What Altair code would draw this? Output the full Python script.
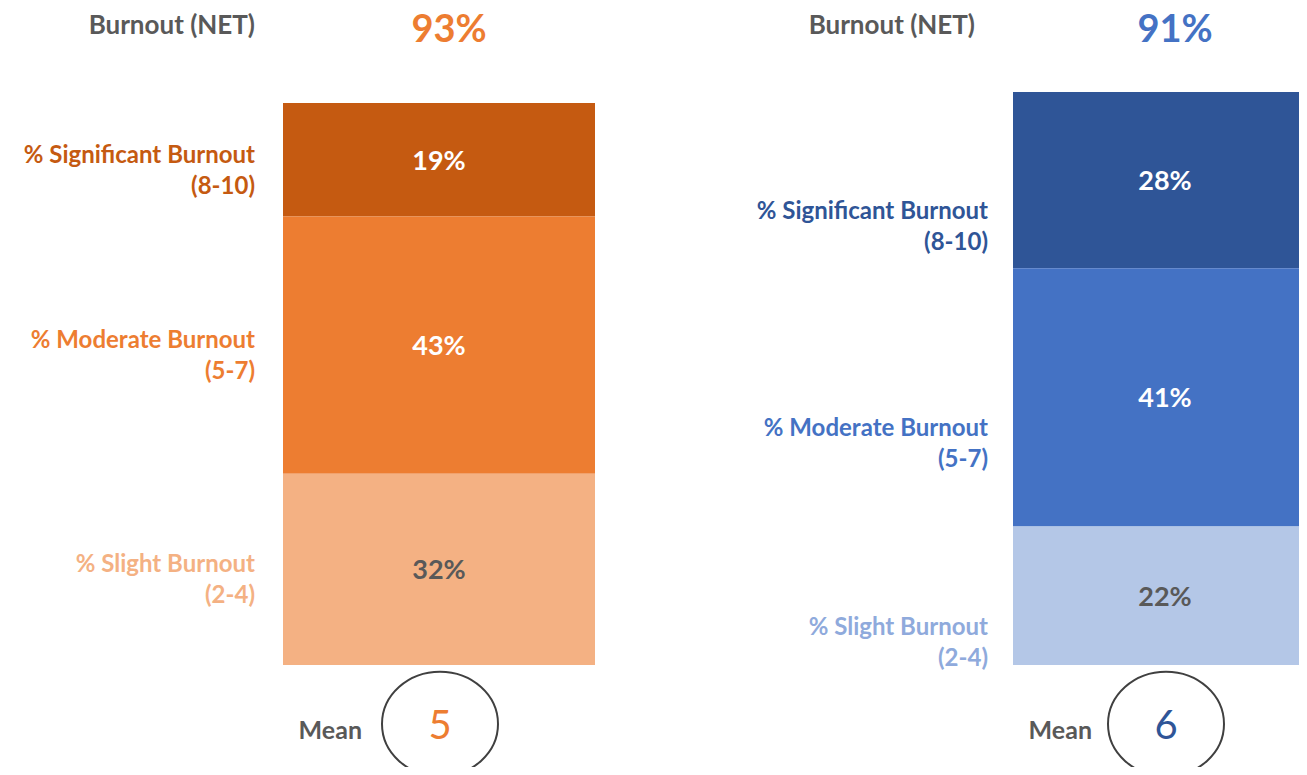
import altair as alt
import pandas as pd

# ---------------- data ----------------
categories = ["% Significant Burnout\n(8-10)", "% Moderate Burnout\n(5-7)", "% Slight Burnout\n(2-4)"]
stack_rank = [2, 1, 0]  # 0 = bottom of the stack
left_values = [19, 43, 32]
right_values = [28, 41, 22]
net_title = "Burnout (NET)"
left_net = "93%"
right_net = "91%"
mean_title = "Mean"
left_mean = "5"
right_mean = "6"

# ---------------- styles ----------------
left_colors = ["#C55A11", "#ED7D31", "#F4B183"]
left_label_colors = ["#C55A11", "#ED7D31", "#F4B183"]
right_colors = ["#2F5597", "#4472C4", "#B4C7E7"]
right_label_colors = ["#2F5597", "#4472C4", "#8FAADC"]
value_text_colors = ["#FFFFFF", "#FFFFFF", "#595959"]
GREY = "#595959"
FONT = "Lato"

W, H = 1291, 759
ELLIPSE = "M-1,0A1,0.9,0,1,0,1,0A1,0.9,0,1,0,-1,0Z"


def panel(key, values, colors, label_colors, net, net_color, mean, mean_color,
          bar_left, bar_width, bar_top, bar_bottom, center_shift,
          label_right, label_dy, title_right, mean_right):
    total = sum(values)
    k = (bar_bottom - bar_top) / total
    d0 = -(H - bar_bottom) / k
    d1 = bar_bottom / k
    yscale = alt.Scale(domain=[d0, d1], nice=False, zero=False)
    # band scale positioning of a single bar (paddingOuter = 1)
    pi = (W - 3 * bar_width) / (W - bar_width)
    align = min(1.0, bar_left / (W - bar_width))
    xscale = alt.Scale(paddingInner=pi, paddingOuter=1, align=align)

    df = pd.DataFrame({
        "panel": key,
        "category": categories,
        "rank": stack_rank,
        "value": values,
        "color": colors,
        "lcolor": label_colors,
        "tcolor": value_text_colors,
        "label": [f"{v}%" for v in values],
    })
    base = (alt.Chart(df)
            .transform_stack(stack="value", as_=["y0", "y1"], groupby=["panel"],
                             sort=[alt.SortField("rank", order="ascending")])
            .transform_calculate(mid="(datum.y0 + datum.y1) / 2"))
    x = alt.X("panel:N", axis=None, scale=xscale)

    bars = base.mark_bar(strokeWidth=0).encode(
        x=x,
        y=alt.Y("y0:Q", scale=yscale, axis=None),
        y2="y1:Q",
        color=alt.Color("color:N", scale=None, legend=None),
    )
    vals = base.mark_text(font=FONT, fontSize=27, fontWeight="bold", baseline="middle",
                          dx=center_shift, dy=2).encode(
        x=x,
        y=alt.Y("mid:Q", scale=yscale, axis=None),
        text="label:N",
        color=alt.Color("tcolor:N", scale=None, legend=None),
    )
    labels = base.mark_text(font=FONT, fontSize=24, fontWeight="bold", align="right",
                            baseline="middle", lineBreak="\n", lineHeight=31,
                            dy=label_dy).encode(
        x=alt.value(label_right),
        y=alt.Y("mid:Q", scale=yscale, axis=None),
        text="category:N",
        color=alt.Color("lcolor:N", scale=None, legend=None),
    )

    hdr = pd.DataFrame({"panel": [key], "title": [net_title], "net": [net],
                        "mt": [mean_title], "mean": [mean]})
    hbase = alt.Chart(hdr)
    ttl = hbase.mark_text(font=FONT, fontSize=26, fontWeight="bold", align="right",
                          baseline="middle", color=GREY).encode(
        x=alt.value(title_right), y=alt.value(18), text="title:N")
    netv = hbase.mark_text(font=FONT, fontSize=38, fontWeight="bold", baseline="middle",
                           color=net_color, dx=center_shift + 10).encode(
        x=x, y=alt.value(23), text="net:N")
    circ = hbase.mark_point(shape=ELLIPSE, size=116 ** 2, filled=False, color="#404040",
                            strokeWidth=2, opacity=1, xOffset=center_shift + 1).encode(
        x=x, y=alt.value(716))
    mnum = hbase.mark_text(font=FONT, fontSize=40, fontWeight="normal", baseline="middle",
                           color=mean_color, dx=center_shift + 1).encode(
        x=x, y=alt.value(719), text="mean:N")
    mlab = hbase.mark_text(font=FONT, fontSize=25, fontWeight="bold", align="right",
                           baseline="middle", color=GREY).encode(
        x=alt.value(mean_right), y=alt.value(723), text="mt:N")

    return alt.layer(bars, vals, labels, ttl, netv, circ, mnum, mlab)


left = panel("A", left_values, left_colors, left_label_colors, left_net, "#ED7D31",
             left_mean, "#ED7D31",
             bar_left=275, bar_width=312, bar_top=95, bar_bottom=657, center_shift=0,
             label_right=247, label_dy=-4, title_right=247, mean_right=354)
right = panel("B", right_values, right_colors, right_label_colors, right_net, "#4472C4",
              right_mean, "#2F5597",
              bar_left=1005, bar_width=W - 1005, bar_top=84, bar_bottom=657, center_shift=9,
              label_right=980, label_dy=32, title_right=967, mean_right=1084)

chart = (alt.layer(left, right)
         .resolve_scale(x="independent", y="independent", color="independent")
         .properties(width=W, height=H, padding=0,
                     autosize=alt.AutoSizeParams(type="none"))
         .configure(
             background="white",
             view=alt.ViewConfig(stroke="transparent", strokeWidth=0),
             axis=alt.AxisConfig(domain=False, grid=False, ticks=False, labels=False),
             style={"cell": {"stroke": "transparent", "strokeWidth": 0}},
         ))

chart.save("out.html", embed_options={"renderer": "svg", "actions": False})
